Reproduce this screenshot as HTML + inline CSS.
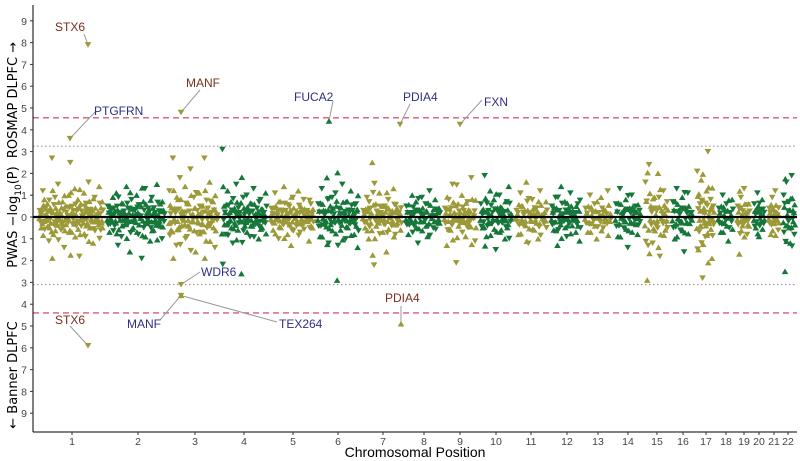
<!DOCTYPE html>
<html><head><meta charset="utf-8"><style>
html,body{margin:0;padding:0;background:#fff;width:800px;height:461px;overflow:hidden}
svg{display:block;font-family:"Liberation Sans",sans-serif}
</style></head><body>
<svg id="chart" width="800" height="461">
<rect width="800" height="461" fill="#fff"/>
<g id="grid"></g><g id="pts"></g><g id="ann"></g><g id="axes"></g>
</svg>
<script>
const chromLabels=["1","2","3","4","5","6","7","8","9","10","11","12","13","14","15","16","17","18","19","20","21","22"];
const chromCenters=[72,138,195,244,293,338,383,424,460,496,531,567,598,628,657,683,706,726,744,759,774,788];
const yTicks=[9,8,7,6,5,4,3,2,1,0,1,2,3,4,5,6,7,8,9];
const yTickValues=[9,8,7,6,5,4,3,2,1,0,-1,-2,-3,-4,-5,-6,-7,-8,-9];
const chromValues=[
[0.3,-0.5,1.2,0.8,-0.2,0.6,-1.1,0.4,2.7,-0.8,0.9,-0.3,1.5,0.2,-0.6,0.7,-1.4,0.5,-0.1,1.0,2.5,-0.7,0.3,1.3,-0.4,0.8,-1.8,0.6,-0.2,1.1,-0.9,0.4,1.6,-0.5,0.2,-1.2,0.9,0.1,-0.3,1.4,-0.6,0.7],
[0.5,-0.7,0.3,0.9,-0.4,1.1,-1.3,0.2,-0.9,0.6,-0.2,1.4,0.4,-1.6,0.8,-0.5,0.3,1.0,-0.8,0.1,-1.9,0.7,1.3,-0.3,0.4,-1.1,0.9,-0.6,0.2,1.5,-0.4,0.6,-1.0,0.3],
[1.2,-0.6,2.7,0.4,-1.3,0.8,1.8,-0.4,0.2,1.4,-0.9,0.6,2.2,-0.2,0.9,-1.6,0.3,1.1,-0.7,0.5,2.7,-1.1,0.4,1.6,-0.3,0.7,-1.4,0.2],
[3.1,0.5,-0.8,1.2,-0.3,0.7,-1.2,0.4,1.5,-0.6,0.2,-2.6,0.9,-0.4,1.0,0.3,-0.9,0.6,1.3,-0.2,0.4,-1.0,0.8,-0.5,0.2,1.1],
[0.4,-0.6,1.1,0.2,-1.0,0.7,-0.3,1.4,0.3,-0.8,0.5,-1.3,0.9,0.1,-0.4,1.2,-0.7,0.4,0.8,-0.2,0.3,-1.1,0.6,-0.5],
[0.6,-0.9,1.3,0.3,-0.4,1.8,-1.2,0.5,0.9,-0.2,1.1,-2.9,0.4,-0.6,1.5,0.2,-1.0,0.7,-0.3,1.2,0.3,-0.8,0.6,-1.4],
[0.3,-0.5,0.9,-1.0,0.4,2.5,-2.2,0.6,-0.3,1.1,0.2,-0.7,0.5,-1.6,0.8,0.1,-0.4,1.3,-0.8,0.4,0.2,-0.6],
[0.5,-0.8,0.2,1.0,-0.4,0.7,-1.2,0.3,0.9,-0.2,0.6,-0.9,1.2,0.1,-0.5,0.8,-0.3,0.4],
[0.4,-1.3,0.8,-0.6,1.5,0.2,-2.1,0.6,-0.3,1.0,0.3,-0.9,0.7,-0.4,1.8,0.1,-1.1],
[0.6,-0.5,1.9,-0.9,0.3,1.2,-0.3,0.8,-1.5,0.4,1.0,-0.6,0.2,-1.0,0.7,1.4,-0.2],
[0.3,-0.8,1.1,0.5,-0.4,1.6,-1.2,0.2,0.8,-0.6,0.4,-1.0,1.2,0.1,-0.3,0.7],
[0.5,-0.6,0.9,-1.3,0.3,1.4,-0.2,0.7,-0.9,0.4,1.1,-0.4,0.2,-0.7,0.6,-1.1],
[0.4,-0.7,1.0,-0.3,0.6,-1.0,0.2,0.9,-0.5,0.3,1.2,-0.2],
[0.6,-0.9,1.3,0.2,-0.5,0.8,-1.4,0.4,1.0,-0.3,0.5,-0.8,0.3],
[1.6,-2.9,2.4,0.5,-1.2,0.9,-0.4,2.0,-1.8,0.3,1.2,-0.6,0.7],
[0.7,-1.0,1.3,0.3,-0.6,0.9,-1.6,0.4,1.1,-0.3,0.2],
[2.1,-1.5,0.6,1.7,-2.8,0.4,-0.9,1.2,3.0,-0.3,0.8,-1.9,0.5],
[0.4,-0.7,1.0,-0.3,0.6,-1.1,0.2,0.8],
[0.5,-1.7,0.9,-0.4,1.3,0.2,-0.8,0.6],
[0.6,-0.5,1.1,-0.9,0.3,0.8,-0.3],
[0.4,-0.8,0.9,-0.3,1.2,0.2,-0.6],
[1.0,-2.5,1.6,-0.4,0.7,-1.2,1.9,0.3,-0.8]
];
const highlightLabels=["STX6","PTGFRN","MANF","FUCA2","PDIA4","FXN","STX6","WDR6","MANF","TEX264","PDIA4"];
const highlightChrom=[0,0,2,5,6,8,0,2,2,2,6];
const highlightValues=[7.9,3.6,4.8,4.4,4.25,4.25,-5.9,-3.1,-3.6,-3.6,-4.9];
</script>
<script>
const NS="http://www.w3.org/2000/svg";
const L=33,R=797,T=5,B=432,Y0=217,U=21.8;
const OLIVE="#9c9a38",GREEN="#16773a";
const y=v=>Y0-v*U;
const bounds=chromCenters.map((c,i)=>{
  const a=i===0?37:(chromCenters[i-1]+c)/2, b=i===chromCenters.length-1?797:(c+chromCenters[i+1])/2;
  return [a+2,b-2];
});
function mk(tag,attrs,parent){const e=document.createElementNS(NS,tag);for(const k in attrs)e.setAttribute(k,attrs[k]);parent.appendChild(e);return e;}
const grid=document.getElementById("grid"),pts=document.getElementById("pts"),ann=document.getElementById("ann"),axes=document.getElementById("axes");
let l;
l=mk("line",{x1:L,x2:R,y1:y(4.55),y2:y(4.55),stroke:"#d75a78","stroke-width":1.3,"stroke-dasharray":"6,4"},grid);


l=mk("line",{x1:L,x2:R,y1:y(-4.4),y2:y(-4.4),stroke:"#d75a78","stroke-width":1.3,"stroke-dasharray":"6,4"},grid);


l=mk("line",{x1:L,x2:R,y1:y(3.25),y2:y(3.25),stroke:"#888","stroke-width":1,"stroke-dasharray":"1.5,2.5"},grid);


l=mk("line",{x1:L,x2:R,y1:y(-3.1),y2:y(-3.1),stroke:"#888","stroke-width":1,"stroke-dasharray":"1.5,2.5"},grid);


function tri(cx,cy,down,col,parent){
  const s=3.3;
  const d=down?`M${cx-s},${cy-s*0.8}L${cx+s},${cy-s*0.8}L${cx},${cy+s*0.9}Z`:`M${cx-s},${cy+s*0.8}L${cx+s},${cy+s*0.8}L${cx},${cy-s*0.9}Z`;
  return mk("path",{d:d,fill:col},parent);
}
chromValues.forEach((vals,i)=>{
  const [a,b]=bounds[i],col=i%2===0?OLIVE:GREEN;
  const g=mk("g",{},pts);
  
  
  const step=(b-a)/vals.length;
  vals.forEach((v,j)=>{
    const cx=a+step*(j+0.5);
    const p=tri(cx,y(v),(j%2)===0,col,g);
    
    
    const p2=tri(cx+step*0.5,y(v*0.45),(j%2)===1,col,g);
    
    
    const p3=tri(cx+step*0.25,y(-v*0.7),(j%3)===0,col,g);
    
    
    const p4=tri(cx-step*0.25,y(-v*0.25),(j%3)===1,col,g);
    
    
  });
});
const hx=[88,70,181,329,400,460,88,181,181,181,401];
const hDown=[true,true,true,false,true,true,true,true,true,false,false];
const labPos=[[55,31,"#7a2e1e"],[94,115,"#2f2f86"],[186,87,"#7a2e1e"],[294,101,"#2f2f86"],[403,101,"#2f2f86"],[484,106,"#2f2f86"],[55,324,"#7a2e1e"],[201,276,"#2f2f86"],[127,328,"#2f2f86"],[279,328,"#2f2f86"],[385,302,"#7a2e1e"]];
const lineEnd=[[84,34],[95,112],[200,90],[333,101],[410,104],[482,100],[70,326],[200,272],[160,320],[277,322],[401,306]];
highlightLabels.forEach((t,i)=>{
  const cx=hx[i],cy=y(highlightValues[i]);
  const col=highlightChrom[i]%2===0?OLIVE:GREEN;
  const [lx,ly,tc]=labPos[i];
  const ln=mk("line",{x1:cx,y1:cy,x2:lineEnd[i][0],y2:lineEnd[i][1],stroke:"#999","stroke-width":1},ann);
  
  
  const p=tri(cx,cy,hDown[i],col,ann);
  
  
  const tx=mk("text",{x:lx,y:ly,fill:tc,"font-size":12},ann);
  tx.textContent=t;
  
  
});
l=mk("line",{x1:L,x2:R,y1:Y0,y2:Y0,stroke:"#000","stroke-width":2.2},axes);


l=mk("line",{x1:L,x2:L,y1:T,y2:B,stroke:"#000","stroke-width":1},axes);


l=mk("line",{x1:L,x2:R,y1:B,y2:B,stroke:"#000","stroke-width":1},axes);


yTickValues.forEach((v,i)=>{
  const tk=mk("line",{x1:L-3,x2:L,y1:y(v),y2:y(v),stroke:"#333"},axes);
  
  
  const t=mk("text",{x:L-6,y:y(v)+4,"text-anchor":"end","font-size":10.5,fill:"#444"},axes);
  t.textContent=yTicks[i];
  
  
});
chromLabels.forEach((c,i)=>{
  const tk=mk("line",{x1:chromCenters[i],x2:chromCenters[i],y1:B,y2:B+3,stroke:"#333"},axes);
  
  
  const t=mk("text",{x:chromCenters[i],y:B+13,"text-anchor":"middle","font-size":10.5,fill:"#444"},axes);
  t.textContent=c;
  
  
});
const xt=mk("text",{x:415,y:457,"text-anchor":"middle","font-size":14,fill:"#000"},axes);
xt.textContent="Chromosomal Position";


const ytParts=[["← Banner DLPFC",375],["PWAS −log<tspan font-size='9' dy='4'>10</tspan><tspan dy='-4'>(P)</tspan>",217],["ROSMAP DLPFC →",100]];
ytParts.forEach((p,i)=>{
  const yt=mk("text",{x:0,y:0,transform:`translate(17,${p[1]}) rotate(-90)`,"text-anchor":"middle","font-size":13,fill:"#000","font-family":"DejaVu Sans, Liberation Sans, sans-serif"},axes);
  
  
  yt.innerHTML=p[0];
});
</script>
</body></html>
